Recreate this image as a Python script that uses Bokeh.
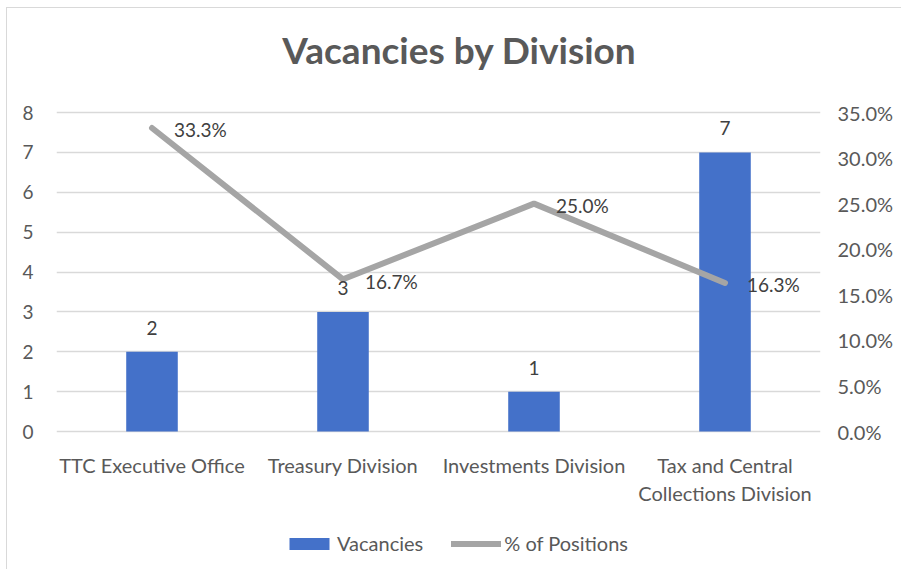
from bokeh.plotting import figure
from bokeh.models import (ColumnDataSource, Range1d, LinearAxis, FixedTicker,
                          NumeralTickFormatter, LabelSet, Label, Legend, LegendItem)
from bokeh.core.properties import value
from bokeh.embed import file_html
from bokeh.resources import INLINE

categories = ["TTC Executive Office", "Treasury Division", "Investments Division",
              "Tax and Central Collections Division"]
label_line1 = ["TTC Executive Office", "Treasury Division", "Investments Division",
               "Tax and Central"]
label_line2 = ["", "", "", "Collections Division"]
vacancies = [2, 3, 1, 7]
pct_positions = [0.333, 0.167, 0.250, 0.163]
left_ticks = [0, 1, 2, 3, 4, 5, 6, 7, 8]
right_ticks = [0.0, 0.05, 0.10, 0.15, 0.20, 0.25, 0.30, 0.35]
title_text = "Vacancies by Division"

FONT = "Lato"
TXT = "#595959"
DLBL = "#404040"
GRID = "#d9d9d9"

# ---- layout constants (pixels inside the figure) ----
W, H = 895, 562
B_LEFT = 49
PLOT_W = 764
PX_ABOVE_MAX = 104     # from figure top to the value-8 gridline
PLOT_H = 319           # value 0 .. value 8
PX_BELOW_ZERO = H - PX_ABOVE_MAX - PLOT_H
Y_MAX = 8
Y2_MAX = 0.35
px_per_unit = PLOT_H / Y_MAX
y_top = Y_MAX + PX_ABOVE_MAX / px_per_unit
y_bot = -PX_BELOW_ZERO / px_per_unit
k2 = Y2_MAX / Y_MAX

# title placement (pixels): centre x from frame left, centre y above the 8-line
TITLE_DX = 403
TITLE_DY = 63
title_x = TITLE_DX / (PLOT_W / len(categories))
title_y = Y_MAX + TITLE_DY / px_per_unit

src = ColumnDataSource(dict(
    cat=categories,
    lbl1=label_line1,
    lbl2=label_line2,
    zero=[0] * len(categories),
    vac=vacancies,
    vac_txt=[str(v) for v in vacancies],
    pct=pct_positions,
    pct_txt=["%.1f%%" % (v * 100) for v in pct_positions],
))

p = figure(x_range=categories, y_range=Range1d(y_bot, y_top), width=W, height=H,
           output_backend="svg", toolbar_location=None,
           min_border_left=B_LEFT, min_border_right=W - B_LEFT - PLOT_W,
           min_border_top=0, min_border_bottom=0,
           styles={"border-left": "1px solid #d9d9d9", "border-top": "1px solid #d9d9d9",
                   "margin-left": "6px", "margin-top": "7px"})
p.extra_y_ranges = {"pct": Range1d(y_bot * k2, y_top * k2)}

p.outline_line_color = None
p.xgrid.grid_line_color = None
p.ygrid.grid_line_color = GRID
p.ygrid.grid_line_width = 1.5
p.ygrid.ticker = FixedTicker(ticks=left_ticks)

bars = p.vbar(x="cat", top="vac", width=0.27, source=src,
              fill_color="#4471c9", line_color=None)
line = p.line(x="cat", y="pct", source=src, y_range_name="pct",
              line_color="#a5a5a5", line_width=6, line_cap="round", line_join="round")

p.add_layout(Label(x=title_x, y=title_y, text=title_text,
                   text_align="center", text_baseline="middle",
                   text_font=FONT, text_font_size="37px", text_font_style="bold",
                   text_color=TXT))

p.add_layout(LabelSet(x="cat", y="vac", text="vac_txt", source=src,
                      text_align="center", text_baseline="middle", y_offset=24,
                      text_font=value(FONT), text_font_size="19px", text_color=DLBL))
p.add_layout(LabelSet(x="cat", y="pct", text="pct_txt", source=src, y_range_name="pct",
                      text_align="left", text_baseline="middle", x_offset=22, y_offset=-2,
                      text_font=value(FONT), text_font_size="19px", text_color=DLBL))
# category labels under the zero line (two centred lines)
for txt_col, dy in (("lbl1", -21), ("lbl2", -49)):
    p.add_layout(LabelSet(x="cat", y="zero", text=txt_col, source=src,
                          text_align="center", text_baseline="top", y_offset=dy,
                          text_font=value(FONT), text_font_size="20px", text_color=TXT))

p.xaxis.visible = False
ya = p.yaxis[0]
ya.ticker = FixedTicker(ticks=left_ticks)

ra = LinearAxis(y_range_name="pct", ticker=FixedTicker(ticks=right_ticks),
                formatter=NumeralTickFormatter(format="0.0%"))
p.add_layout(ra, "right")

for ax in (ya, ra):
    ax.axis_line_color = None
    ax.major_tick_line_color = None
    ax.minor_tick_line_color = None
    ax.major_label_text_font = FONT
    ax.major_label_text_color = TXT
ya.major_label_text_font_size = "19px"
ra.major_label_text_font_size = "20px"
ya.major_label_standoff = 17
ra.major_label_standoff = 11

legend = Legend(items=[LegendItem(label="Vacancies", renderers=[bars]),
                       LegendItem(label="% of Positions", renderers=[line])],
                orientation="horizontal", location=(228, 15),
                label_text_font=FONT, label_text_font_size="20px",
                label_text_color=TXT, glyph_width=50, glyph_height=15,
                spacing=28, label_standoff=3, border_line_color=None,
                background_fill_alpha=0, padding=0, margin=0)
p.add_layout(legend, "center")

open("out.html", "w").write(file_html(p, INLINE))
